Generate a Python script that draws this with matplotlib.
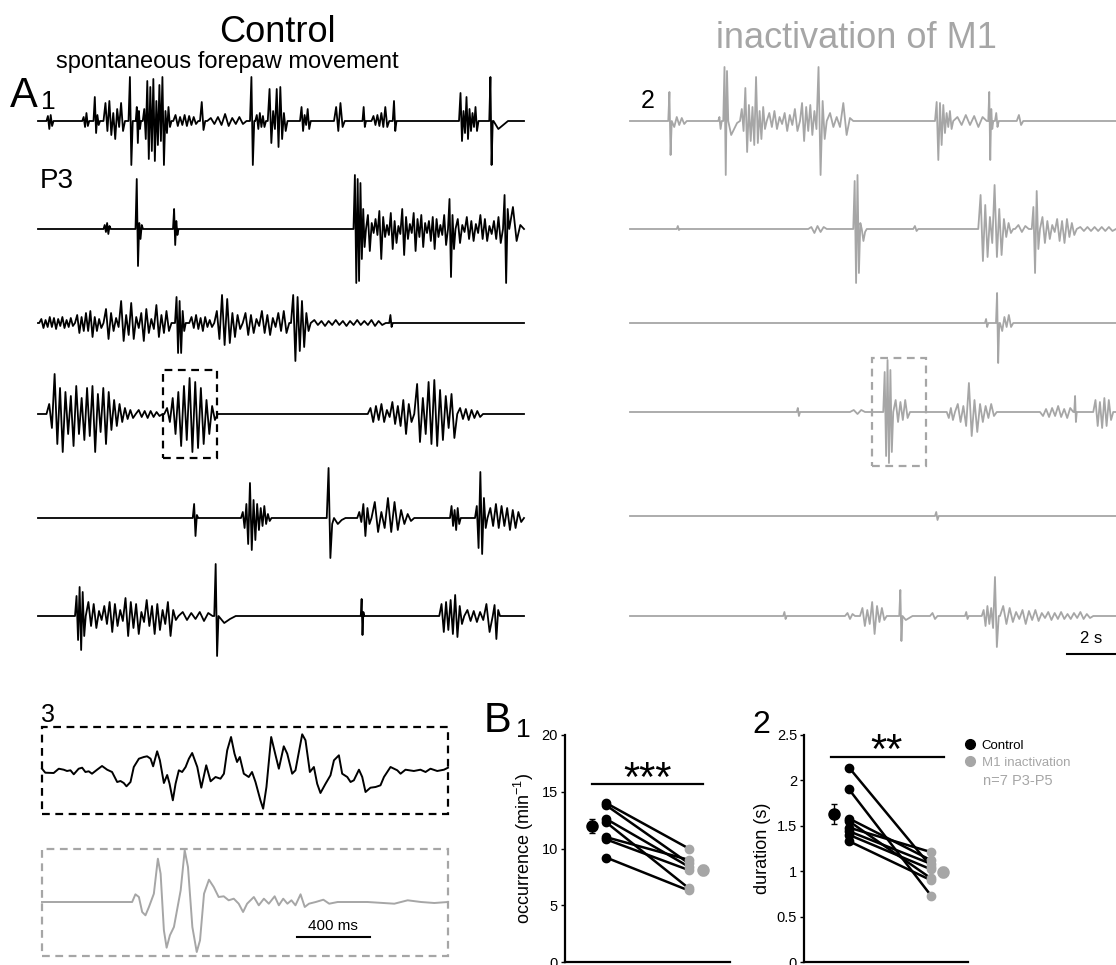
import numpy as np
import matplotlib
matplotlib.use("Agg")
import matplotlib.pyplot as plt
from matplotlib.patches import Rectangle
from matplotlib.lines import Line2D

plt.rcParams['font.family'] = 'Liberation Sans'
plt.rcParams['mathtext.fontset'] = 'custom'
plt.rcParams['mathtext.rm'] = 'Liberation Sans'
plt.rcParams['mathtext.it'] = 'Liberation Sans:italic'

GRAY = '#a6a6a6'

# EMG traces: (t_start s, t_end s, peak amplitudes)
ctrl_1 = [(0.34, 0.62, [5, -8, 6, -5]), (1.77, 2.05, [4, -6, 8, -5]), (2.22, 2.48, [24, -12, 6, -4]),
          (2.62, 3.48, [18, -10, 20, -14, 8, -18, 12, -6, 18, -10]), (3.62, 3.79, [44, -44]),
          (3.91, 4.12, [14, -22, 10, -8]),
          (4.19, 5.34, [12, -18, 40, -38, 34, -30, 42, -40, 20, -24, 36, -20, 44, -44, 10, -12, 14, -6]),
          (5.41, 6.41, [6, -5, 4, -4, 6, -5, 5, -4, 4, -3]), (6.48, 6.69, [19, -9]),
          (6.77, 8.34, [3, -3, 4, -4, 7, -5, 3, -3, 4, -3]), (8.48, 8.65, [44, -44]),
          (8.69, 9.12, [6, -8, 8, -6, 5, -6]), (9.19, 9.98, [32, -22, 10, -8, 32, -26, 34, -18, 8, -10]),
          (10.48, 10.91, [14, -10, 6, -4, 12, -8]), (11.84, 12.27, [14, -10, 18, -6]), (12.98, 13.12, [14, -6]),
          (13.34, 14.05, [5, -4, 6, -5, 8, -6, 14, -6]), (14.19, 14.34, [20, -10]),
          (16.84, 17.62, [28, -20, 10, -12, 24, -18, 12, -10, 8, -6, 14, -10]), (18.05, 18.19, [44, -44]),
          (18.22, 18.8, [-8, -4])]
ctrl_2 = [(2.62, 2.91, [4, -3, 6, -5, 3]), (3.9, 4.2, [50, -37, 6, -10, 4]),
          (5.4, 5.62, [20, -16, 8, -6]),
          (12.62, 13.12, [54, -54, 50, -52, 46, -30, 20, -18]),
          (13.12, 16.4, [14, -22, 6, -4, 10, -6, 18, -30, 12, -8, 4, -6, 16, -20, 8, -14, 3, -5, 20, -26, 12,
                         -10, 5, -4, 16, -22, 10, -8, 14, -18, 6, -4, 8, -12, 12, -20, 10, -8, 4, -6, 14, -16]),
          (16.4, 16.7, [30, -48, 14, -20]),
          (16.7, 18.6, [10, -14, 4, -3, 12, -10, 8, -12, 5, -4, 14, -10, 10, -12, 3, -5, 8, -10, 12, -14]),
          (18.6, 18.85, [34, -54, 20]), (18.85, 19.44, [22, -12, 4])]
ctrl_3 = [(0.05, 1.48, [4, -5, 3, -4, 6, -4, 5, -6, 4, -3, 6, -5, 3, -4, 5, -3]),
          (1.48, 2.62, [8, -10, 6, -8, 10, -8, 12, -14, 6, -8, 4, -5]),
          (2.62, 5.34, [14, -16, 10, -8, 5, -4, 22, -18, 8, -12, 20, -16, 6, -5, 10, -18, 14, -10, 4, -6, 18, -14,
                        8, -10, 12, -8]),
          (5.48, 5.91, [26, -30, 22, -30, 12, -8]), (6.05, 7.05, [6, -5, 8, -6, 5, -8, 6, -4, 3, -4]),
          (7.05, 8.19, [12, -16, 28, -22, 24, -20, 10, -14, 8, -6]),
          (8.19, 10.05, [10, -12, 8, -10, 4, -3, 12, -10, 8, -12, 5, -4, 10, -8, 12, -10]),
          (10.12, 10.91, [28, -38, 26, -28, 22, -24, 10, -8]),
          (10.91, 13.91, [3, -2, 2, -3, 2, -2, 3, -2, 2, -3, 2, -2, 3, -2, 2, -2, 3, -3, 2, -2]),
          (14.05, 14.19, [8, -4])]
ctrl_4 = [(0.34, 3.91, [10, -14, 40, -30, 26, -38, 22, -20, 18, -32, 28, -20, 16, -26, 26, -22, 28, -38, 20,
                        -18, 26, -30, 22, -16, 14, -12, 10, -8, 6, -5, 4, -4]),
          (3.91, 4.98, [4, -3, 3, -4, 3, -3, 2, -2]),
          (5.05, 7.19, [6, -8, 16, -20, 22, -32, 28, -26, 36, -38, 32, -34, 26, -30, 14, -20, 8, -6]),
          (13.19, 15.05, [6, -8, 8, -6, 10, -8, 4, -3, 12, -10, 8, -12, 14, -20, 10, -8]),
          (15.05, 16.77, [30, -28, 16, -20, 32, -30, 34, -32, 24, -26, 18, -14, 20, -24]),
          (16.77, 17.8, [6, -5, 5, -6, 4, -4, 3, -3])]
ctrl_5 = [(6.19, 6.41, [14, -18, 3]),
          (8.12, 9.34, [6, -10, 14, -26, 35, -32, 18, -22, 14, -12, 10, -8, 12, -6, 4, -3]),
          (11.55, 11.84, [50, -40, -6]), (11.84, 12.3, [-6, -2]), (12.77, 13.34, [6, -4, 14, -18, 10, -6]),
          (13.34, 15.05, [16, -14, 6, -10, 20, -14, 16, -12, 8, -6, 4, -3]),
          (16.48, 16.91, [12, -8, 8, -12, 10, -6]), (17.48, 17.98, [12, -30, 46, -36, 20, -10]),
          (17.98, 19.44, [10, -8, 14, -10, 12, -8, 10, -12, 8, -10, 6, -4])]
ctrl_6 = [(1.48, 1.91, [20, -24, 29, -34, 24, -20]),
          (1.91, 5.62, [14, -10, 12, -12, 5, -4, 10, -8, 14, -16, 12, -10, 6, -5, 18, -20, 14, -12, 12, -18, 4,
                        -6, 16, -10, 10, -18, 12, -14, 6, -8, 14, -20, 6, -4]),
          (5.62, 6.98, [4, -4, 3, -3, 4, -5, 3]), (7.05, 7.22, [52, -40]), (7.22, 7.91, [-7, -3]),
          (12.91, 13.05, [17, -19, 4]),
          (16.05, 17.05, [12, -16, 14, -14, 16, -18, 21, -21, 10, -8]),
          (17.05, 18.19, [6, -5, 5, -6, 4, -4, 12, -16]), (18.19, 18.48, [11, -23, 6])]

inact_1 = [(1.53, 1.67, [29, -34]), (1.67, 2.27, [-6, 4, -4, 3, -3]),
           (3.53, 3.67, [4, -8]), (3.73, 3.93, [54, -54, 50]), (3.93, 4.4, [-14, -8, -2]),
           (4.4, 5.47, [12, -10, 33, -31, 16, -20, 14, -24, 44, -22, 10, -18, 14, -8]),
           (5.47, 6.8, [8, -6, 10, -8, 4, -3, 8, -10, 6, -4, 12, -10]),
           (6.8, 7.87, [18, -20, 14, -10, 16, -14, 10, -8, 54, -54, 20, -18]),
           (7.87, 8.93, [8, -6, 4, -6, 18, -14, 3]),
           (12.2, 12.93, [19, -39, 18, -24, 16, -12, 8, -6, 10, -8]), (12.93, 14.27, [4, -4, 6, -4, 5, -6, 4]),
           (14.33, 14.53, [29, -39, 12, -8]), (14.6, 14.75, [8, -6]), (15.47, 15.73, [6, -4])]
inact_2 = [(1.87, 2.0, [3, -1]), (7.13, 7.87, [2, -4, 3, -3, 2]),
           (8.93, 9.27, [48, -54, 54, -44, 6]), (9.27, 9.47, [-12, -3]), (11.33, 11.53, [3, -2]),
           (13.93, 15.33, [34, -32, 24, -28, 12, -14, 44, -28, 20, -26, 10, -8, 6, -4]),
           (15.4, 15.95, [4, -3, 3]), (16.07, 16.4, [22, -44, 38, -20]),
           (16.4, 17.87, [12, -14, 8, -10, 4, -3, 10, -12, 8, -14, 10, -8, 6, -6]),
           (17.87, 19.44, [2, -2, 2, -2, 2, -2, 2, -2, 2, -2])]
inact_3 = [(14.2, 14.33, [4, -4]), (14.64, 14.77, [30, -40]), (14.8, 15.33, [-8, 6, -4, 8, -4])]
inact_4 = [(6.67, 6.8, [4, -4]), (8.8, 9.4, [2, -2, 2]),
           (10.13, 10.53, [40, -44, 52, -51, 42, -40]),
           (10.53, 11.2, [12, -10, 10, -8, 12, -6]), (12.67, 13.0, [-6, 4, -8]),
           (13.0, 14.67, [8, -10, 6, -14, 29, -24, 12, -20, 8, -10, 6, -6, 8, -4]),
           (16.4, 17.73, [-4, 3, -5, 4, -4, 6, -5, 3, -6, 4]), (17.77, 17.87, [16, -10]),
           (18.53, 19.33, [12, -14, 10, -16, 14, -14, 12, -8])]
inact_5 = [(12.2, 12.35, [4, -4])]
inact_6 = [(6.13, 6.27, [4, -3]), (8.6, 9.0, [3, -3, 2]),
           (9.2, 10.27, [8, -10, 6, -8, 14, -18, 10, -6, 8, -4]), (10.77, 10.9, [26, -25]),
           (10.9, 11.3, [-4, -2]), (12.0, 12.3, [3, -3]), (13.4, 13.55, [4, -3]),
           (14.07, 14.75, [6, -10, 10, -8, 8, -12, 39, -31]),
           (14.8, 18.53, [10, -8, 8, -6, 4, -3, 6, -8, 5, -4, 6, -5, 3, -2, 4, -4, 3, -3, 4, -3, 2, -3, 3, -2,
                          4, -3, 2, -2])]

ctrl_rows = [ctrl_1, ctrl_2, ctrl_3, ctrl_4, ctrl_5, ctrl_6]
inact_rows = [inact_1, inact_2, inact_3, inact_4, inact_5, inact_6]

# expanded sweeps (ms, amplitude)
zoom_ctrl_t = [0, 18, 64, 92, 119, 137, 156, 174, 201, 220, 238, 256, 274, 302, 329, 357, 384, 412, 430, 448,
               463, 485, 503, 531, 558, 576, 595, 609, 631, 646, 668, 686, 699, 717, 732, 750, 768, 787, 805,
               823, 851, 873, 900, 924, 951, 978, 997, 1015, 1036, 1055, 1069, 1084, 1106, 1133, 1151, 1170,
               1197, 1212, 1230, 1256, 1280, 1298, 1325, 1344, 1371, 1389, 1426, 1444, 1468, 1490, 1508, 1526,
               1554, 1581, 1600, 1627, 1645, 1673, 1691, 1709, 1737, 1755, 1773, 1800, 1828, 1855, 1874, 1910,
               1947, 1965, 1992, 2038, 2074, 2102, 2129, 2166, 2203, 2225]
zoom_ctrl_v = [3.3, -0.7, -1, 3.3, 2.3, 1, 1.7, -2.3, 3.3, 4.3, 0, 0.7, -1.7, 2.3, 6, 2.3, 0, -10, -9, -11,
               -14.3, -10, 5, 13.3, 15, 15.7, 13.3, 5.7, 20.7, 11.7, -11, -3, -11.7, -28.3, -11.7, 1.7, 0, 5,
               13.3, 19, 5, -15.7, 6.7, -9.3, -5, -6.7, -1.7, 21.7, 35, 18.3, 10, 15, -1.7, -5, 0, -10, -28.3,
               -36.7, -15, 35, 16.7, 3.3, 25.7, 18.3, -1.7, 1.7, 37.7, 31.7, 0, 5, -11.7, -21, -11.7, -3.3,
               11.7, 16.7, -1.7, -5, -10, -8.3, 2.3, -5, -20, -15.7, -15, -13.3, -5, 5, 1.7, -1.7, 2.3, 1, 2.3,
               0, 3.3, 1, 2.3, 4.3]
zoom_inact_t = [0, 494, 512, 531, 549, 567, 586, 613, 635, 650, 668, 683, 701, 723, 760, 782, 800, 824, 848,
                866, 888, 915, 941, 968, 996, 1023, 1051, 1078, 1102, 1124, 1161, 1188, 1216, 1243, 1275, 1298,
                1322, 1345, 1367, 1389, 1417, 1440, 1463, 1500, 1542, 1574, 1620, 1784, 1931, 2004, 2077, 2150,
                2225]
zoom_inact_v = [0, 0, 7.7, 5, -10, -13.3, -5, 8.3, 43.3, 28.3, -28.3, -45.7, -33.3, -25, 11.7, 51.7, 35, -25,
                -50, -38.3, 8.3, 22.3, 15, 5, 5.7, 1.7, 3.3, -1.7, -10, -1.7, 5, -3.3, 3.3, -1.7, 5.7, -3.3, 3.3,
                -1.7, 1.7, -3.3, 7.7, -5, -1.7, 0, 2.3, -1.7, 0, 0, -1.7, 1.7, 0, -1, 0]

# group data
occ_ctrl = [14.0, 13.8, 12.6, 12.3, 11.0, 10.8, 9.2]
occ_inact = [10.0, 8.7, 8.4, 6.5, 9.0, 8.1, 6.3]
occ_mean = [12.0, 8.1]
occ_sem = [0.6, 0.45]
dur_ctrl = [2.14, 1.90, 1.58, 1.55, 1.48, 1.44, 1.40, 1.33]
dur_inact = [1.05, 0.73, 1.12, 0.92, 1.21, 1.08, 1.02, 0.90]
dur_mean = [1.63, 0.99]
dur_sem = [0.11, 0.055]

W, H = 1116, 965
fig = plt.figure(figsize=(W / 100, H / 100), dpi=100)


def box(x0, y0, x1, y1):
    return [x0 / W, 1 - y1 / H, (x1 - x0) / W, (y1 - y0) / H]


def ftext(x, y, s, **kw):
    fig.text(x / W, 1 - y / H, s, **kw)


def trace_xy(segs, t_end=19.44):
    t, v = [0.0], [0.0]
    for t0, t1, peaks in segs:
        t += list(np.linspace(t0, t1, len(peaks) + 2))
        v += [0] + list(peaks) + [0]
    t.append(t_end)
    v.append(0)
    return t, v


base_left = [121, 229, 323, 414, 518, 616]
base_right = [121, 229, 323, 412, 516, 616]
trace_axes = {}
for side, rows, bases, x0, col in [('L', ctrl_rows, base_left, 38, 'black'),
                                   ('R', inact_rows, base_right, 630, GRAY)]:
    for i, (segs, b) in enumerate(zip(rows, bases)):
        ax = fig.add_axes(box(x0, b - 50, x0 + 486, b + 50))
        ax.set_xlim(0, 19.44)
        ax.set_ylim(-50, 50)
        ax.axis('off')
        t, v = trace_xy(segs)
        ax.plot(t, v, color=col, lw=1.3, clip_on=False)
        trace_axes[(side, i)] = ax

trace_axes[('L', 3)].add_patch(Rectangle((5.0, -44), 2.16, 88, fill=False, ec='black', lw=1.6,
                                         ls=(0, (3.5, 2.5)), clip_on=False))
trace_axes[('R', 3)].add_patch(Rectangle((9.68, -54), 2.16, 108, fill=False, ec=GRAY, lw=1.6,
                                         ls=(0, (3.5, 2.5)), clip_on=False))
axs = trace_axes[('R', 5)]
axs.plot([17.48, 19.48], [-38, -38], color='black', lw=1.5, clip_on=False)
axs.text(18.45, -30, '2 s', ha='center', va='bottom', fontsize=12)

# titles and panel labels
ftext(277, 32, 'Control', fontsize=26, ha='center', va='center')
ftext(227, 62, 'spontaneous forepaw movement', fontsize=17, ha='center', va='center')
ftext(856, 38, 'inactivation of M1', fontsize=26, ha='center', va='center', color=GRAY)
ftext(10, 107, 'A', fontsize=30, va='baseline')
ftext(41, 109, '1', fontsize=19, va='baseline')
ftext(40, 188, 'P3', fontsize=20, va='baseline')
ftext(641, 108, '2', fontsize=18, va='baseline')
ftext(41, 722, '3', fontsize=18, va='baseline')
ftext(484, 732, 'B', fontsize=30, va='baseline')
ftext(516, 737, '1', fontsize=19, va='baseline')
ftext(752, 733, '2', fontsize=23, va='baseline')

# expanded sweeps
ax3a = fig.add_axes(box(42, 727, 448, 814))
ax3a.set_xlim(0, 2225)
ax3a.set_ylim(-42, 45)
ax3a.axis('off')
ax3a.plot(zoom_ctrl_t, zoom_ctrl_v, color='black', lw=1.4, clip_on=False)
ax3a.add_patch(Rectangle((0, 0), 1, 1, transform=ax3a.transAxes, fill=False, ec='black', lw=1.6,
                         ls=(0, (3.5, 2.5)), clip_on=False))
ax3b = fig.add_axes(box(42, 849, 448, 956))
ax3b.set_xlim(0, 2225)
ax3b.set_ylim(-54, 53)
ax3b.axis('off')
ax3b.plot(zoom_inact_t, zoom_inact_v, color=GRAY, lw=1.4, clip_on=False)
ax3b.add_patch(Rectangle((0, 0), 1, 1, transform=ax3b.transAxes, fill=False, ec=GRAY, lw=1.6,
                         ls=(0, (3.5, 2.5)), clip_on=False))
ax3b.plot([1397, 1797], [-35, -35], color='black', lw=1.5)
ax3b.text(1597, -31, '400 ms', ha='center', va='bottom', fontsize=11)


def paired(ax, ctrl, inact, mean, sem, xm):
    for c, v in zip(ctrl, inact):
        ax.plot([0, 1], [c, v], color='black', lw=1.8, zorder=2)
    ax.plot([0] * len(ctrl), ctrl, 'o', color='black', ms=6, zorder=3)
    ax.plot([1] * len(inact), inact, 'o', color=GRAY, ms=6, zorder=3)
    ax.errorbar(xm[0], mean[0], yerr=sem[0], fmt='o', color='black', ms=8, capsize=2.5, elinewidth=1)
    ax.errorbar(xm[1], mean[1], yerr=sem[1], fmt='o', color=GRAY, ms=8, capsize=2.5, elinewidth=1)
    for s in ['top', 'right']:
        ax.spines[s].set_visible(False)
    for s in ['left', 'bottom']:
        ax.spines[s].set_linewidth(1.6)
    ax.set_xticks([])
    ax.tick_params(axis='y', direction='out', length=3, width=1, labelsize=10.5, pad=2)


axB1 = fig.add_axes(box(565, 735, 730, 962))
axB1.set_xlim(-0.5, 1.5)
axB1.set_ylim(0, 20)
paired(axB1, occ_ctrl, occ_inact, occ_mean, occ_sem, [-0.17, 1.17])
axB1.set_yticks([0, 5, 10, 15, 20])
axB1.set_ylabel('occurrence (min$^{-1}$)', fontsize=13, labelpad=4)
axB1.plot([-0.17, 1.17], [15.7, 15.7], color='black', lw=1.6, clip_on=False)
axB1.text(0.5, 15.1, '***', ha='center', va='baseline', fontsize=30)

axB2 = fig.add_axes(box(804, 735, 968, 962))
axB2.set_xlim(-0.55, 1.45)
axB2.set_ylim(0, 2.5)
paired(axB2, dur_ctrl, dur_inact, dur_mean, dur_sem, [-0.18, 1.15])
axB2.set_yticks([0, 0.5, 1, 1.5, 2, 2.5])
axB2.set_yticklabels(['0', '0.5', '1', '1.5', '2', '2.5'])
axB2.set_ylabel('duration (s)', fontsize=13, labelpad=4)
axB2.plot([-0.22, 1.16], [2.26, 2.26], color='black', lw=1.6, clip_on=False)
axB2.text(0.46, 2.19, '**', ha='center', va='baseline', fontsize=30)

handles = [Line2D([], [], marker='o', ls='', color='black', ms=7),
           Line2D([], [], marker='o', ls='', color=GRAY, ms=7)]
axB2.legend(handles, ['Control', 'M1 inactivation'], loc='upper left', bbox_to_anchor=(958 / W, 1 - 733 / H),
            bbox_transform=fig.transFigure, frameon=False, fontsize=9.5, handlelength=0.8,
            handletextpad=0.5, borderpad=0, labelspacing=0.35, labelcolor=['black', GRAY])
ftext(983, 781, 'n=7 P3-P5', fontsize=10.5, va='center', color=GRAY)

fig.savefig('out.png', dpi=100)
